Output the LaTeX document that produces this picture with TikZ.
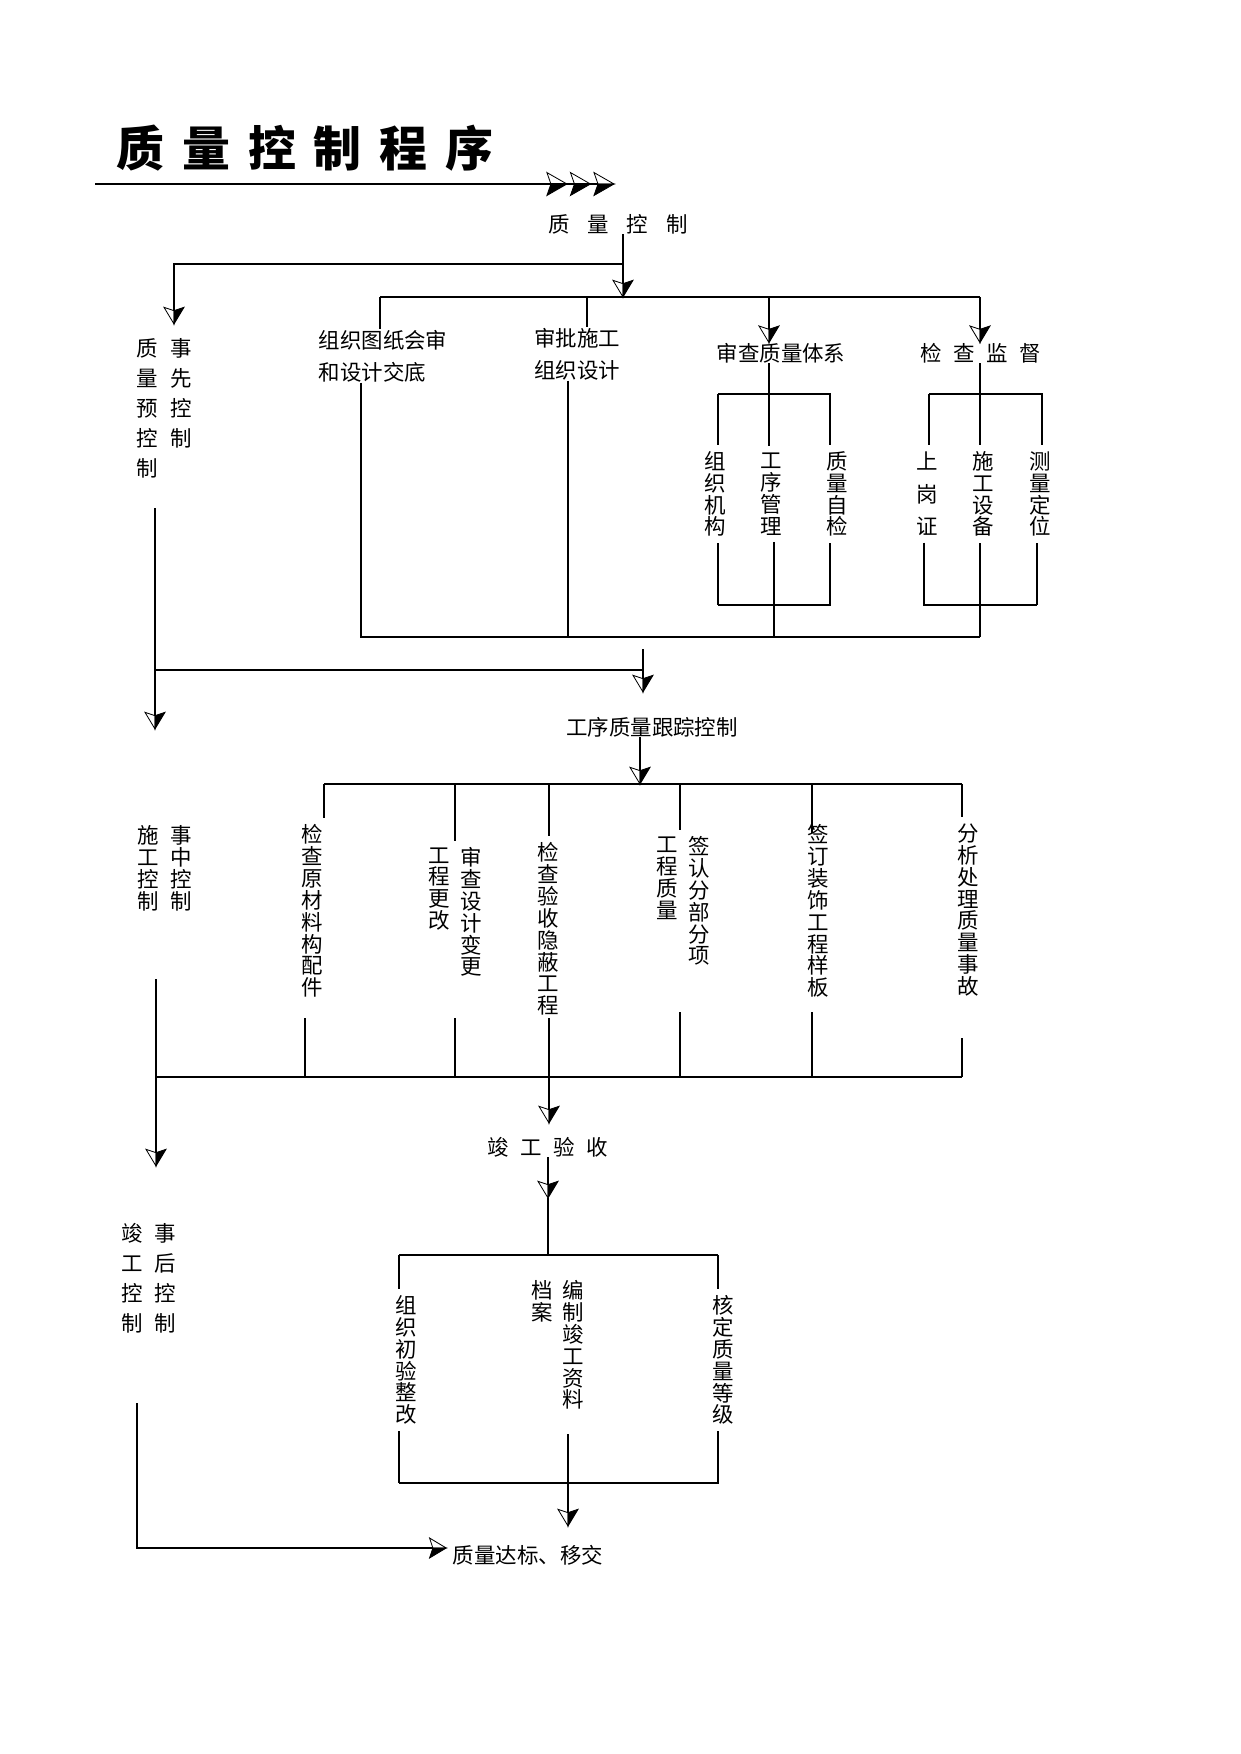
\documentclass[tikz,border=0pt]{standalone}
\usepackage{fontspec}
\usepackage{tikz}
\usetikzlibrary{arrows.meta}
\newfontfamily\cjk{Noto Sans CJK SC}
\XeTeXlinebreaklocale "zh"
\XeTeXlinebreakskip = 0pt plus 1pt

\pgfdeclarearrow{
  name = qc,
  defaults = {length = 8pt, width = 9.6pt},
  parameters = {\the\pgfarrowlength,\the\pgfarrowwidth},
  setup code = {
    \pgfarrowssettipend{0pt}
    \pgfarrowssetlineend{-.8\pgfarrowlength}
    \pgfarrowssetbackend{-\pgfarrowlength}
    \pgfarrowssetvisualbackend{-.8\pgfarrowlength}
    \pgfarrowshullpoint{0pt}{0pt}
    \pgfarrowshullpoint{-\pgfarrowlength}{.5\pgfarrowwidth}
    \pgfarrowshullpoint{-\pgfarrowlength}{-.5\pgfarrowwidth}
    \pgfarrowssavethe\pgfarrowlength
    \pgfarrowssavethe\pgfarrowwidth
  },
  drawing code = {
    \pgfsetdash{}{0pt}
    \pgfsetlinewidth{0.4pt}
    \pgfsetmiterjoin
    \pgfpathmoveto{\pgfpointorigin}
    \pgfpathlineto{\pgfpoint{-\pgfarrowlength}{.5\pgfarrowwidth}}
    \pgfpathlineto{\pgfpoint{-.8\pgfarrowlength}{0pt}}
    \pgfpathclose
    \pgfusepathqfillstroke
    \pgfpathmoveto{\pgfpointorigin}
    \pgfpathlineto{\pgfpoint{-\pgfarrowlength}{-.5\pgfarrowwidth}}
    \pgfpathlineto{\pgfpoint{-.8\pgfarrowlength}{0pt}}
    \pgfpathclose
    \pgfusepathqstroke
  }
}

\tikzstyle{arrow} = [-qc]
\tikzstyle{rarrow} = [-{qc[swap]}]
\tikzstyle{tarrow} = [-{qc[swap,length=9.6pt,width=11pt,sep=1.7pt]qc[swap,length=9.6pt,width=11pt,sep=1.7pt]qc[swap,length=9.6pt,width=11pt]}]
\tikzstyle{thn} = [line width=0.5pt]
\tikzstyle{thk} = [line width=1pt]
\tikzstyle{ttl} = [inner sep=0pt, font=\cjk\bfseries\fontsize{23}{27}\selectfont]
\tikzstyle{lbl} = [inner sep=0pt, font=\cjk\fontsize{10.3}{15.5}\selectfont]
\tikzstyle{vtxt} = [inner xsep=0pt, inner ysep=3pt, text width=10.3pt, align=center, font=\cjk\fontsize{10.3}{10.5}\selectfont]
\tikzstyle{vcol} = [vtxt, font=\cjk\fontsize{10.3}{14.4}\selectfont]
\tikzstyle{vsprd} = [vtxt, font=\cjk\fontsize{10.3}{15.6}\selectfont]

\begin{document}
\begin{tikzpicture}[x=0.48pt,y=-0.48pt]
    \useasboundingbox (0,0) rectangle (1241,1754);

    % title
    \node[ttl] at (305,148) (title) {质\hspace{8.5pt}量\hspace{8.5pt}控\hspace{8.5pt}制\hspace{8.5pt}程\hspace{8.5pt}序};
    \coordinate (tl0) at (95,184);
    \coordinate (tl1) at (614,184);
    \draw[thk, tarrow] (tl0) -- (tl1);

    % pre control
    \node[lbl] at (618,224) (qc) {质\hspace{8.6pt}量\hspace{8.6pt}控\hspace{8.6pt}制};
    \coordinate (k0) at (623,264);
    \coordinate (a0) at (174,324);
    \coordinate (b1a) at (380,297);
    \coordinate (b1b) at (587,297);
    \coordinate (b1c) at (769,297);
    \coordinate (b1d) at (980,297);
    \draw[thk, arrow] (qc.south -| k0) -- (k0 |- b1a);
    \draw[thn, arrow] (k0) -| (a0);
    \draw[thk] (b1a) -- (b1d);

    \node[vcol] at (147,408) (preA) {质量预控制};
    \node[vcol] at (181,393) (preB) {事先控制};
    \node[lbl, align=left] at (383,356) (t1) {组织图纸会审\\和设计交底};
    \node[lbl, align=left] at (577,354) (t2) {审批施工\\组织设计};
    \node[lbl] at (781,353) (t3) {审查质量体系};
    \node[lbl] at (981,353) (t4) {检\hspace{5.5pt}查\hspace{5.5pt}监\hspace{5.5pt}督};

    \draw[thn] (b1a) -- (b1a |- t1.north);
    \draw[thk] (b1b) -- (b1b |- t2.north);
    \draw[thn, arrow] (b1c) -- (b1c |- t3.north);
    \draw[thn, arrow] (b1d) -- (b1d |- t4.north);

    \node[vtxt] at (715,494) (u1) {组织机构};
    \node[vtxt] at (771,494) (u2) {工序管理};
    \node[vtxt] at (837,494) (u3) {质量自检};
    \node[vsprd] at (927,494) (u4) {上岗证};
    \node[vtxt] at (983,494) (u5) {施工设备};
    \node[vtxt] at (1040,494) (u6) {测量定位};

    \coordinate (c1) at (718,394);
    \coordinate (c2) at (830,394);
    \coordinate (c3) at (929,394);
    \coordinate (c4) at (1042,394);
    \draw[thn] (t3.south -| b1c) -- (b1c |- u2.north);
    \draw[thn] (c1) -- (c2) -- (c2 |- u3.north);
    \draw[thk] (c1) -- (c1 |- u1.north);
    \draw[thn] (t4.south -| b1d) -- (b1d |- u5.north);
    \draw[thn] (c3) -- (c4) -- (c4 |- u6.north);
    \draw[thk] (c3) -- (c3 |- u4.north);

    \coordinate (e1) at (718,605);
    \coordinate (e2) at (830,605);
    \coordinate (e3) at (924,605);
    \coordinate (e4) at (1037,605);
    \coordinate (m1) at (361,637);
    \coordinate (m2) at (980,637);
    \coordinate (m3) at (568,637);
    \coordinate (m4) at (774,637);
    \draw[thk] (e1 |- u1.south) -- (e1);
    \draw[thn] (e1) -- (e2) -- (e2 |- u3.south);
    \draw[thn] (m4 |- u2.south) -- (m4);
    \draw[thn] (e3 |- u4.south) -- (e3) -- (e4);
    \draw[thk] (e4) -- (e4 |- u6.south);
    \draw[thn] (m2 |- u5.south) -- (m2);
    \draw[thk] (m1 |- t1.south) -- (m1) -- (m2);
    \draw[thk] (m3 |- t2.south) -- (m3);

    \coordinate (l0) at (155,508);
    \coordinate (l1) at (155,670);
    \coordinate (a1) at (155,729);
    \coordinate (l2) at (643,670);
    \coordinate (l3) at (643,649);
    \coordinate (a2) at (643,692);
    \draw[thn, arrow] (l0) -- (a1);
    \draw[thn] (l1) -- (l2);
    \draw[thk, arrow] (l3) -- (a2);

    % in-process control
    \node[lbl] at (652,727) (m0) {工序质量跟踪控制};
    \coordinate (f0) at (640,784);
    \coordinate (f1) at (324,784);
    \coordinate (f2) at (455,784);
    \coordinate (f3) at (549,784);
    \coordinate (f4) at (680,784);
    \coordinate (f5) at (812,784);
    \coordinate (f6) at (962,784);
    \draw[thk, arrow] (m0.south -| f0) -- (f0);
    \draw[thn] (f1) -- (f6);

    \node[vtxt, font=\cjk\fontsize{10.3}{10.6}\selectfont] at (148,868) (midA) {施工控制};
    \node[vtxt, font=\cjk\fontsize{10.3}{10.6}\selectfont] at (181,868) (midB) {事中控制};
    \node[vtxt] at (312,911) (v1) {检查原材料构配件};
    \node[vtxt] at (439,889) (v2a) {工程更改};
    \node[vtxt] at (471,912) (v2b) {审查设计变更};
    \node[vtxt] at (548,929) (v3) {检查验收隐蔽工程};
    \node[vtxt] at (667,878) (v4a) {工程质量};
    \node[vtxt] at (699,901) (v4b) {签认分部分项};
    \node[vtxt] at (818,911) (v5) {签订装饰工程样板};
    \node[vtxt] at (968,910) (v6) {分析处理质量事故};

    \draw[thn] (f1) -- (f1 |- v1.north);
    \draw[thn] (f2) -- (f2 |- v2b.north);
    \draw[thn] (f3) -- (f3 |- v3.north);
    \draw[thn] (f4) -- (f4 |- v4a.north);
    \draw[thk] (f5) -- ++(0,49);
    \draw[thk] (f6) -- (f6 |- v6.north);

    \coordinate (g0) at (156,1077);
    \coordinate (g7) at (962,1077);
    \coordinate (h1) at (305,1018);
    \coordinate (h2) at (455,1018);
    \coordinate (h3) at (549,1018);
    \coordinate (h4) at (680,1012);
    \coordinate (h5) at (812,1012);
    \coordinate (h6) at (962,1038);
    \coordinate (a3) at (549,1123);
    \draw[thn] (h1) -- (h1 |- g0);
    \draw[thn] (h2) -- (h2 |- g0);
    \draw[thn] (h4) -- (h4 |- g0);
    \draw[thk] (h5) -- (h5 |- g0);
    \draw[thk] (h6) -- (g7);
    \draw[thk] (g0) -- (g7);
    \draw[thn, arrow] (h3) -- (a3);

    \coordinate (l4) at (156,979);
    \coordinate (a4) at (156,1166);
    \draw[thn, arrow] (l4) -- (a4);

    % final acceptance
    \node[lbl] at (548,1147) (e0) {竣\hspace{5.5pt}工\hspace{5.5pt}验\hspace{5.5pt}收};
    \coordinate (a5) at (548,1198);
    \coordinate (p0) at (548,1255);
    \coordinate (p1) at (399,1255);
    \coordinate (p2) at (718,1255);
    \draw[thk, arrow] (e0.south) -- (a5);
    \draw[thk] (a5) -- (p0);
    \draw[thn] (p1) -- (p2);

    \node[vcol] at (132,1278) (postA) {竣工控制};
    \node[vcol] at (165,1278) (postB) {事后控制};
    \node[vtxt] at (406,1360) (w1) {组织初验整改};
    \node[vtxt] at (542,1301) (w2) {档案};
    \node[vtxt] at (573,1345) (w3) {编制竣工资料};
    \node[vtxt] at (723,1360) (w4) {核定质量等级};

    \draw[thn] (p1) -- (p1 |- w1.north);
    \draw[thk] (p2) -- (p2 |- w4.north);

    \coordinate (q1) at (399,1483);
    \coordinate (q2) at (718,1483);
    \coordinate (r0) at (568,1434);
    \coordinate (a6) at (568,1526);
    \draw[thn] (q1 |- w1.south) -- (q1);
    \draw[thk] (q1) -- (q2) -- (q2 |- w4.south);
    \draw[thk, arrow] (r0) -- (a6);

    \node[lbl] at (528,1555) (fin) {质量达标、移交};
    \coordinate (r1) at (137,1403);
    \coordinate (r2) at (137,1548);
    \draw[thk, rarrow] (r1) -- (r2) -- ([xshift=-3pt]r2 -| fin.west);

\end{tikzpicture}
\end{document}
